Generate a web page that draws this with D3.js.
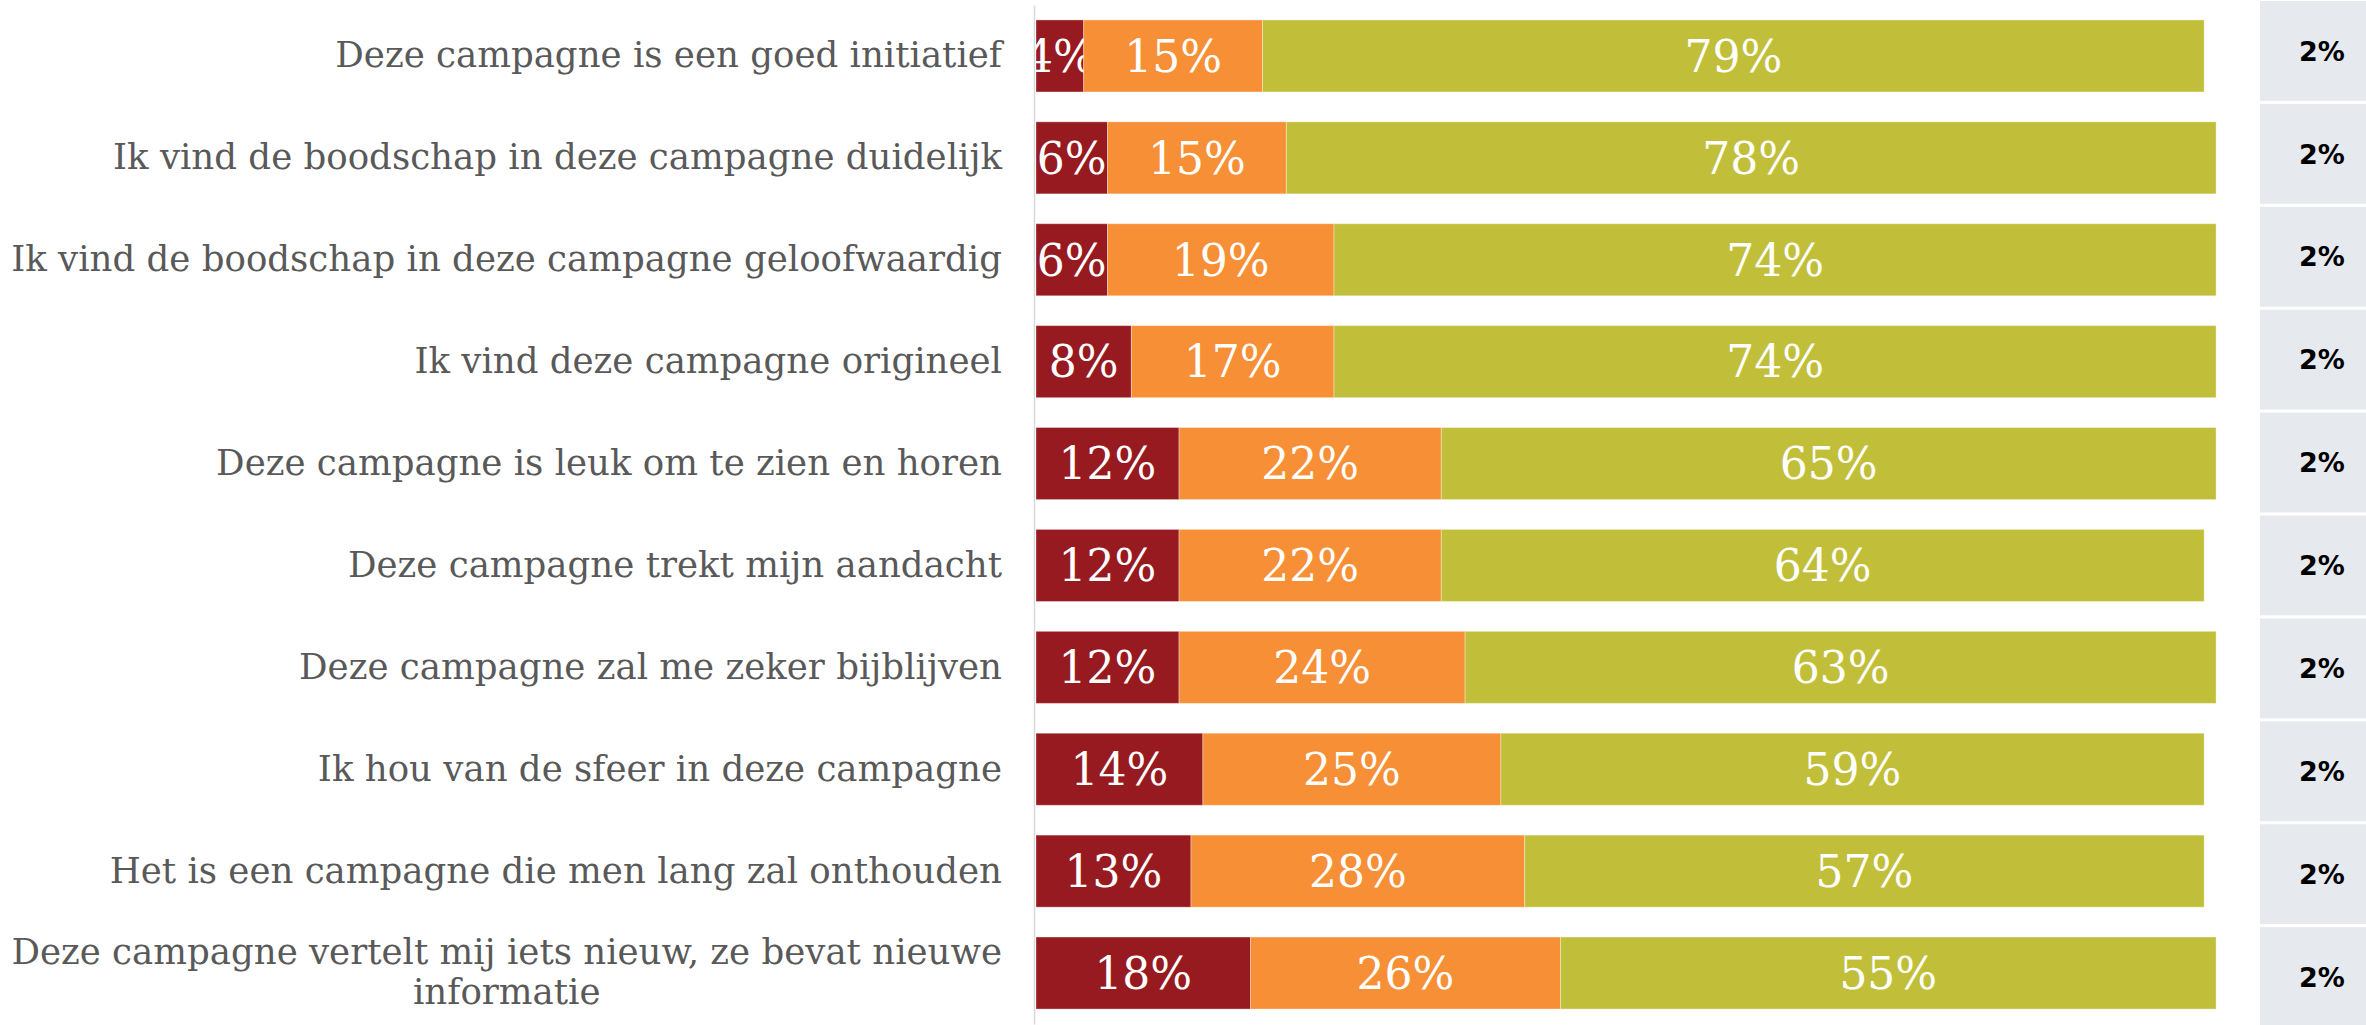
<!DOCTYPE html>
<html lang="nl">
<head>
    <meta charset="UTF-8"/>
    <title>Campagne evaluatie</title>
    <script src="https://d3js.org/d3.v7.min.js"></script>
    <style>
        body { margin: 0; background: #fff; }
        .cat text { font-family: "DejaVu Serif", serif; font-size: 35.6px; fill: #595959; }
        .seg-label { font-family: "DejaVu Serif", serif; font-size: 44px; fill: #fff; }
        .dk-label { font-family: "DejaVu Sans", sans-serif; font-weight: bold; font-size: 27px; fill: #000; }
    </style>
</head>
<body>
    <script>
        var w = 2366;
        var h = 1025;

        var categories = [
            "Deze campagne is een goed initiatief",
            "Ik vind de boodschap in deze campagne duidelijk",
            "Ik vind de boodschap in deze campagne geloofwaardig",
            "Ik vind deze campagne origineel",
            "Deze campagne is leuk om te zien en horen",
            "Deze campagne trekt mijn aandacht",
            "Deze campagne zal me zeker bijblijven",
            "Ik hou van de sfeer in deze campagne",
            "Het is een campagne die men lang zal onthouden",
            "Deze campagne vertelt mij iets nieuw, ze bevat nieuwe informatie"
        ];
        var disagree = [4, 6, 6, 8, 12, 12, 12, 14, 13, 18];
        var neutral  = [15, 15, 19, 17, 22, 22, 24, 25, 28, 26];
        var agree    = [79, 78, 74, 74, 65, 64, 63, 59, 57, 55];
        var dontKnow = [2, 2, 2, 2, 2, 2, 2, 2, 2, 2];

        var keys = ["disagree", "neutral", "agree"];
        var colors = ["#961a1f", "#f68f35", "#c1bf3a"];

        var rows = categories.map(function(c, i) {
            return { cat: c, disagree: disagree[i], neutral: neutral[i], agree: agree[i], dk: dontKnow[i] };
        });

        var xScale = d3.scaleLinear()
            .domain([0, 100])
            .range([1036, 2228]);

        var yScale = d3.scaleBand()
            .domain(categories)
            .range([5, 1024])
            .paddingInner(0.293)
            .paddingOuter(0.1465);

        // the grey "weet niet" column on the right
        var cellScale = d3.scaleBand()
            .domain(categories)
            .range([-0.5, 1028.5])
            .paddingInner(0.03)
            .paddingOuter(0.015);

        var svg = d3.select("body")
            .append("svg")
            .attr("width", w)
            .attr("height", h);

        var series = d3.stack().keys(keys)(rows);

        var groups = svg.selectAll("g.series")
            .data(series)
            .enter()
            .append("g")
            .attr("class", "series")
            .attr("fill", function(d, i) { return colors[i]; });

        groups.selectAll("rect")
            .data(function(d) { return d; })
            .enter()
            .append("rect")
            .attr("x", function(d) { return xScale(d[0]); })
            .attr("y", function(d) { return yScale(d.data.cat); })
            .attr("width", function(d) { return xScale(d[1]) - xScale(d[0]); })
            .attr("height", yScale.bandwidth())
            .attr("stroke", "#fff")
            .attr("stroke-opacity", 0.35)
            .attr("stroke-width", 1);

        groups.selectAll("text")
            .data(function(d) { return d; })
            .enter()
            .append("text")
            .attr("class", "seg-label")
            .attr("x", function(d) { return (xScale(d[0]) + xScale(d[1])) / 2; })
            .attr("y", function(d) { return yScale(d.data.cat) + yScale.bandwidth() / 2; })
            .attr("dy", "0.36em")
            .attr("text-anchor", "middle")
            .text(function(d) { return (d[1] - d[0]) + "%"; });

        // left axis: only the domain line and the category labels
        var axis = svg.append("g")
            .attr("class", "cat")
            .attr("transform", "translate(1034,0)")
            .call(d3.axisLeft(yScale).tickSize(0).tickPadding(32));

        axis.select(".domain")
            .attr("stroke", "#d9d9d9")
            .attr("stroke-width", 1.5);

        axis.selectAll(".tick text")
            .attr("font-family", null)
            .attr("font-size", null)
            .attr("fill", null)
            .each(function() { wrap(d3.select(this), 1025); });

        function wrap(text, width) {
            var words = text.text().split(/\s+/);
            var lines = [];
            var line = [];
            text.text(null);
            var probe = text.append("tspan");
            words.forEach(function(word) {
                line.push(word);
                probe.text(line.join(" "));
                if (probe.node().getComputedTextLength() > width && line.length > 1) {
                    line.pop();
                    lines.push(line.join(" "));
                    line = [word];
                }
            });
            lines.push(line.join(" "));
            probe.remove();
            if (lines.length === 1) {
                text.text(lines[0]);
                return;
            }
            var lh = 40;
            var x0 = parseFloat(text.attr("x"));
            var first = text.append("tspan").text(lines[0]);
            var blockW = first.node().getComputedTextLength();
            first.remove();
            text.attr("text-anchor", "middle");
            lines.forEach(function(l, i) {
                text.append("tspan")
                    .attr("x", x0 - blockW / 2)
                    .attr("y", (i - (lines.length - 1) / 2) * lh)
                    .attr("dy", "0.32em")
                    .text(l);
            });
        }

        // don't know column
        svg.selectAll("rect.dk")
            .data(rows)
            .enter()
            .append("rect")
            .attr("class", "dk")
            .attr("x", 2260)
            .attr("y", function(d) { return cellScale(d.cat); })
            .attr("width", 130)
            .attr("height", cellScale.bandwidth())
            .attr("fill", "#e6e9ee");

        svg.selectAll("text.dk-label")
            .data(rows)
            .enter()
            .append("text")
            .attr("class", "dk-label")
            .attr("x", 2322)
            .attr("y", function(d) { return cellScale(d.cat) + cellScale.bandwidth() / 2; })
            .attr("dy", "0.36em")
            .attr("text-anchor", "middle")
            .text(function(d) { return d.dk + "%"; });
    </script>
</body>
</html>
